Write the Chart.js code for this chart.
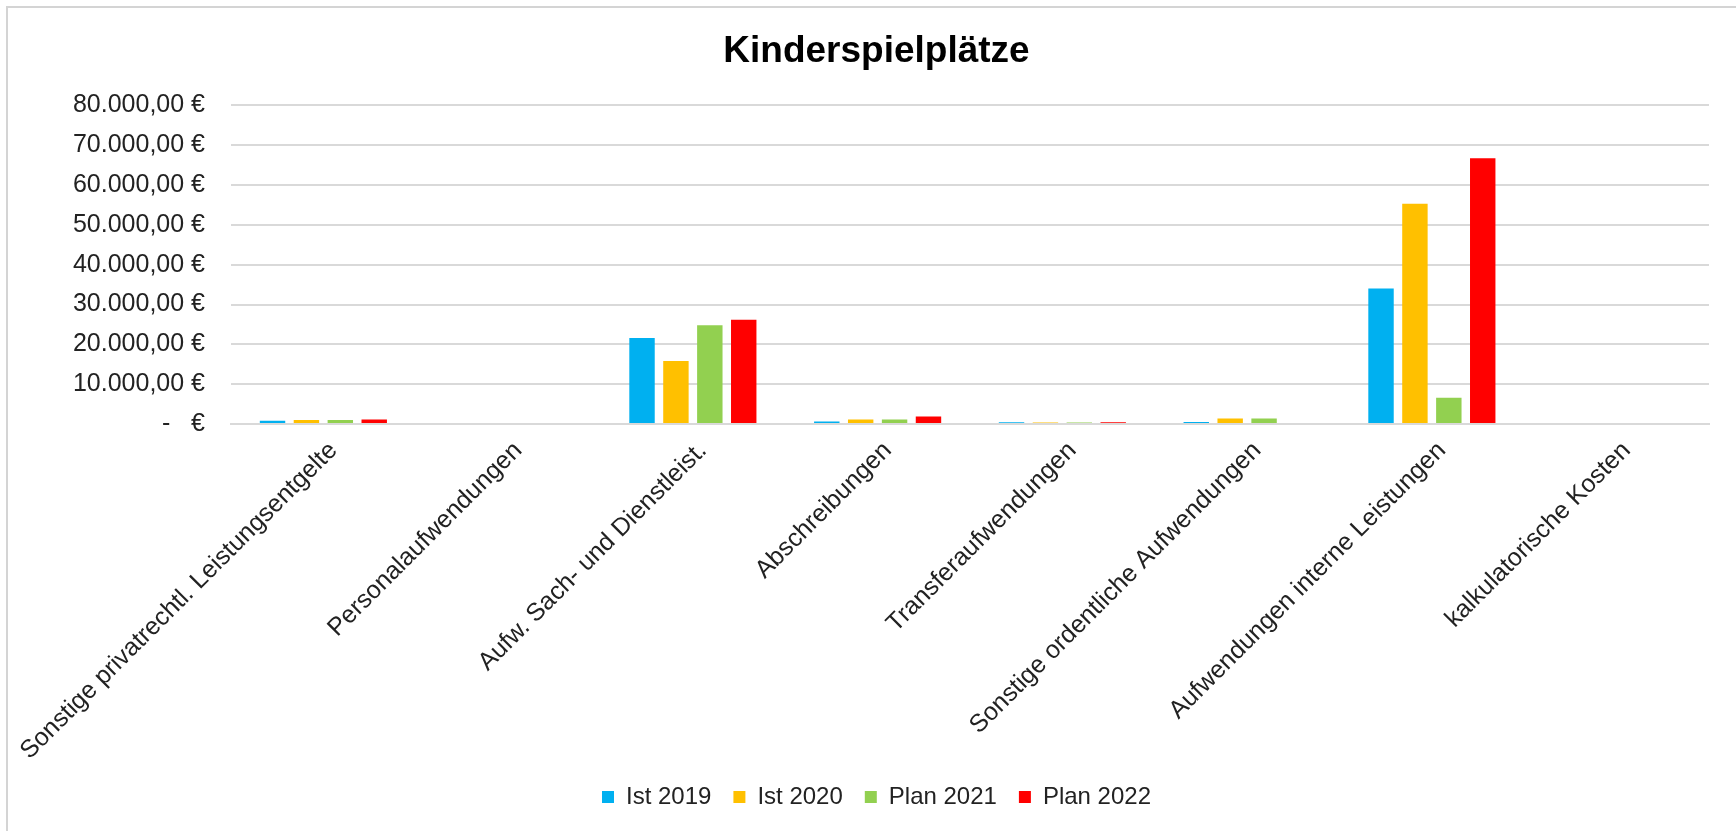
<!DOCTYPE html>
<html>
<head>
<meta charset="utf-8">
<script src="https://cdn.jsdelivr.net/npm/chart.js@4.4.0/dist/chart.umd.min.js"></script>
<style>
  html, body { margin: 0; padding: 0; background: #fff; overflow: hidden; }
  .frame { position: absolute; left: 6px; top: 6px; width: 1740px; height: 840px; border: 2px solid #d4d4d4; }
  .wrap { position: absolute; left: 0; top: 0; width: 1736px; height: 831px; }
</style>
</head>
<body>
<div class="frame"></div>
<div class="wrap"><canvas id="kostenChart"></canvas></div>
<script>
// Kategorien (x-Achse)
const kategorien = [
    'Sonstige privatrechtl. Leistungsentgelte',
    'Personalaufwendungen',
    'Aufw. Sach- und Dienstleist.',
    'Abschreibungen',
    'Transferaufwendungen',
    'Sonstige ordentliche Aufwendungen',
    'Aufwendungen interne Leistungen',
    'kalkulatorische Kosten'
];

// Werte in Euro
const ist2019  = [800, 0, 21600, 600, 450, 500, 34000, 0];
const ist2020  = [1000, 0, 15800, 1150, 400, 1400, 55300, 0];
const plan2021 = [1000, 0, 24800, 1150, 400, 1350, 6600, 0];
const plan2022 = [1100, 0, 26200, 1900, 450, 0, 66700, 0];

const yTicks = [0, 10000, 20000, 30000, 40000, 50000, 60000, 70000, 80000];

// Format wie in Excel (Buchhaltung): 80.000,00 €  bzw.  -   €
function euro(wert) {
    if (wert === 0) return '-   €';
    const teile = wert.toFixed(2).split('.');
    const ganz = teile[0].replace(/\B(?=(\d{3})+(?!\d))/g, '.');
    return ganz + ',' + teile[1] + ' €';
}

const schrift = "'Liberation Sans', Arial, sans-serif";
const gitterFarbe = '#d9d9d9';

const ctx = document.getElementById('kostenChart').getContext('2d');
const kostenChart = new Chart(ctx, {
    type: 'bar',
    data: {
        labels: kategorien,
        datasets: [
            { label: 'Ist 2019', data: ist2019, backgroundColor: '#00B0F0' },
            { label: 'Ist 2020', data: ist2020, backgroundColor: '#FFC000' },
            { label: 'Plan 2021', data: plan2021, backgroundColor: '#92D050' },
            { label: 'Plan 2022', data: plan2022, backgroundColor: '#FF0000' }
        ]
    },
    options: {
        responsive: true,
        maintainAspectRatio: false,
        animation: false,
        layout: { padding: { left: 44, right: 27, top: 0, bottom: 12 } },
        datasets: {
            bar: { categoryPercentage: 0.734, barPercentage: 0.75 }
        },
        plugins: {
            title: {
                display: true,
                text: 'Kinderspielplätze',
                color: '#000',
                font: { family: schrift, size: 37, weight: 'bold' },
                padding: { top: 30, bottom: 31 }
            },
            legend: {
                position: 'bottom',
                labels: {
                    color: '#222',
                    font: { family: schrift, size: 24 },
                    boxWidth: 12,
                    boxHeight: 12,
                    padding: 22
                }
            },
            tooltip: { enabled: false }
        },
        scales: {
            x: {
                grid: { display: false, drawTicks: false },
                border: { display: true, color: gitterFarbe, width: 2 },
                ticks: {
                    color: '#222',
                    font: { family: schrift, size: 25 },
                    minRotation: 45,
                    maxRotation: 45,
                    autoSkip: false,
                    padding: 12,
                    labelOffset: 10
                },
                afterFit: function(scale) {
                    scale.height = 339;
                    scale.paddingLeft = 0;
                    scale.paddingRight = 0;
                }
            },
            y: {
                min: 0,
                max: 80000,
                afterBuildTicks: function(scale) {
                    scale.ticks = yTicks.map(v => ({ value: v }));
                },
                grid: { color: gitterFarbe, lineWidth: 2, drawTicks: false },
                border: { display: false },
                ticks: {
                    color: '#222',
                    font: { family: schrift, size: 25 },
                    padding: 26,
                    callback: function(value) { return euro(value); }
                },
                afterFit: function(scale) {
                    scale.width = 187;
                }
            }
        }
    }
});
</script>
</body>
</html>
